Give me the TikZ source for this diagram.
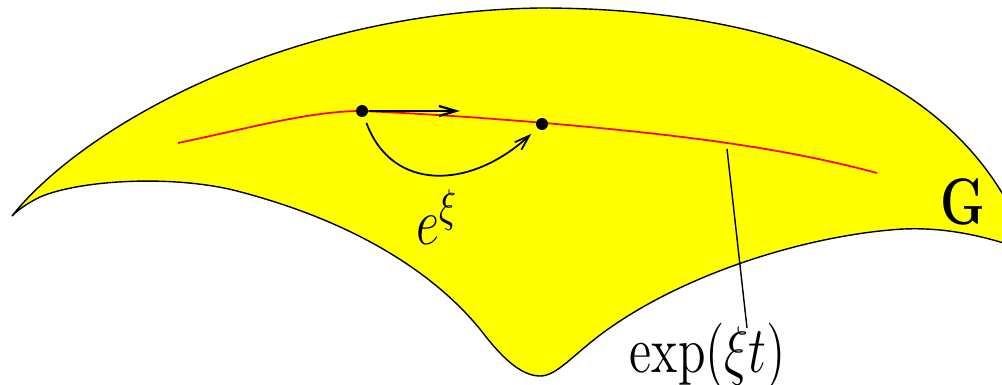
\documentclass[tikz,border=0pt]{standalone}
\usepackage{amsmath,amssymb}
\usepackage{xcolor}
\usepackage{tikz}
\usetikzlibrary{arrows.meta, calc}
\definecolor{groupyellow}{RGB}{255,255,0}
\definecolor{flowred}{RGB}{255,0,0}
\newcommand{\vstretch}[1]{\scalebox{1}[1.3]{#1}}

\begin{document}
\begin{tikzpicture}[x=0.1mm, y=-0.1mm]
	\tikzset{
		surface/.style={draw=black, line width=0.4pt, fill=groupyellow},
		flowline/.style={flowred, line width=0.5pt},
		point/.style={circle, fill=black, minimum size=1.2mm, inner sep=0pt},
		vecarrow/.style={-{Straight Barb[length=1.7mm, width=1mm]}, line width=0.65pt},
		maparrow/.style={-{Straight Barb[length=1.5mm, width=1mm]}, line width=0.5pt},
		leader/.style={line width=0.4pt},
		label/.style={inner sep=0pt, anchor=base, font=\Large},
	}
	
	% Page frame
	\clip (0,0) rectangle (1002,384);
	
	% Group surface G
	\draw[surface] (12,216) .. controls (80,130) and (280,12) .. (540,8)
		.. controls (760,8) and (960,70) .. (1025,240)
		-- (1025,250)
		.. controls (985,236) and (940,225) .. (890,230)
		.. controls (800,238) and (680,275) .. (600,335)
		.. controls (570,358) and (556,376) .. (540,376)
		.. controls (520,376) and (500,355) .. (483,333)
		.. controls (440,278) and (360,222) .. (233,190)
		.. controls (170,175) and (80,180) .. (40,197)
		.. controls (30,202) and (20,208) .. (12,216) -- cycle;
	
	% One-parameter subgroup
	\draw[flowline] (178,143) .. controls (250,128) and (310,111) .. (362,111)
		.. controls (480,116) and (640,130) .. (727,143)
		.. controls (790,152) and (840,163) .. (877,173);
	
	% Points on the curve
	\node[point] (P1) at (362,111) {};
	\node[point] (P2) at (542,124) {};
	\coordinate (V1) at (460,111);
	\coordinate (Lt) at (727,149);
	\coordinate (Lb) at (747,328);
	
	% Tangent vector and exponential map
	\draw[vecarrow] (P1) -- (V1);
	\draw[maparrow, shorten <=0.6mm, shorten >=0.8mm] (P1) .. controls (392,192) and (470,190) .. (P2);
	
	% Labels
	\node[label] (Lexp) at (437,245) {\vstretch{$e^{\xi}$}};
	\node[label] (LG) at (963,224) {\vstretch{$\mathbf{G}$}};
	\node[label] (Lflow) at (708,372) {\vstretch{$\exp(\xi t)$}};
	\draw[leader] (Lt) -- (Lb);
\end{tikzpicture}
\end{document}
